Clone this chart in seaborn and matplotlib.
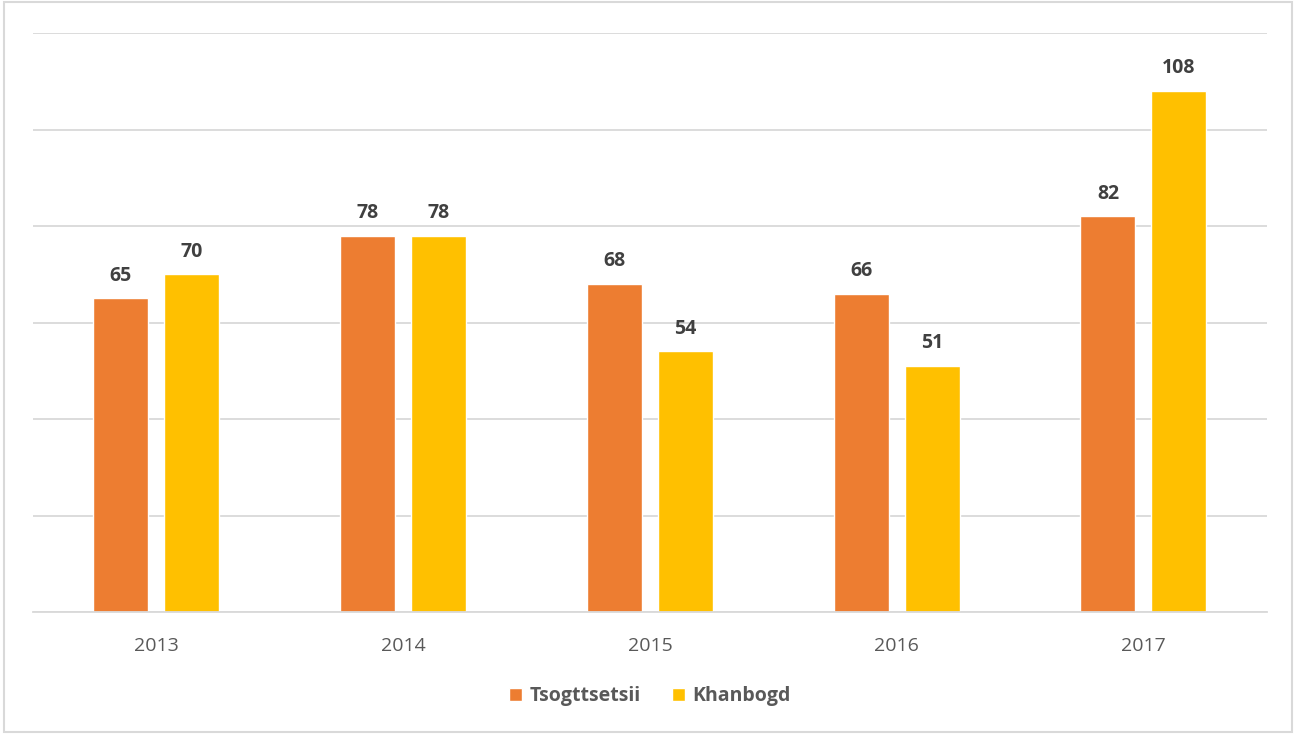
import pandas as pd
import matplotlib.pyplot as plt
import seaborn as sns
from matplotlib.patches import Rectangle

# data
years = ["2013", "2014", "2015", "2016", "2017"]
tsogttsetsii = [65, 78, 68, 66, 82]
khanbogd = [70, 78, 54, 51, 108]
series_names = ["Tsogttsetsii", "Khanbogd"]

df = pd.DataFrame({
    "Year": years * 2,
    "Value": tsogttsetsii + khanbogd,
    "Series": [series_names[0]] * len(years) + [series_names[1]] * len(years),
})

sns.set_theme(style="white")
plt.rcParams['font.family'] = ['Open Sans', 'DejaVu Sans']

fig = plt.figure(figsize=(12.96, 7.34), dpi=100)
ax = fig.add_axes([0.0255, 0.1662, 0.952, 0.7888])

palette = {"Tsogttsetsii": "#ED7D31", "Khanbogd": "#FFC000"}
sns.barplot(data=df, x="Year", y="Value", hue="Series", palette=palette,
            width=0.575, gap=0.225, ax=ax, legend=True, saturation=1)

# data labels
for cont in ax.containers:
    ax.bar_label(cont, padding=9, fontsize=14, fontweight="bold", color="#404040")

ax.set_ylim(0, 120)
ax.set_yticks(range(0, 121, 20))
ax.yaxis.grid(True, color="#D9D9D9", linewidth=1.3)
ax.set_axisbelow(True)
ax.tick_params(axis="y", left=False, labelleft=False)
ax.tick_params(axis="x", bottom=False, labelsize=14, labelcolor="#595959", pad=12)
ax.set_xlim(-0.5, 4.5)
ax.set_xlabel("")
ax.set_ylabel("")
for s in ["top", "left", "right"]:
    ax.spines[s].set_visible(False)
ax.spines["bottom"].set_color("#D9D9D9")
ax.spines["bottom"].set_linewidth(1.3)

leg = ax.legend(loc="center", bbox_to_anchor=(0.5, -0.145), ncol=2, frameon=False,
                fontsize=14, handlelength=0.65, handleheight=0.65, columnspacing=1.6,
                handletextpad=0.4)
for t in leg.get_texts():
    t.set_color("#595959")
    t.set_fontweight("bold")

# outer chart border
fig.patches.append(Rectangle((0.003, 0.003), 0.994, 0.994, transform=fig.transFigure,
                             fill=False, edgecolor="#D9D9D9", linewidth=1.5))

fig.savefig("out.png", dpi=100)
